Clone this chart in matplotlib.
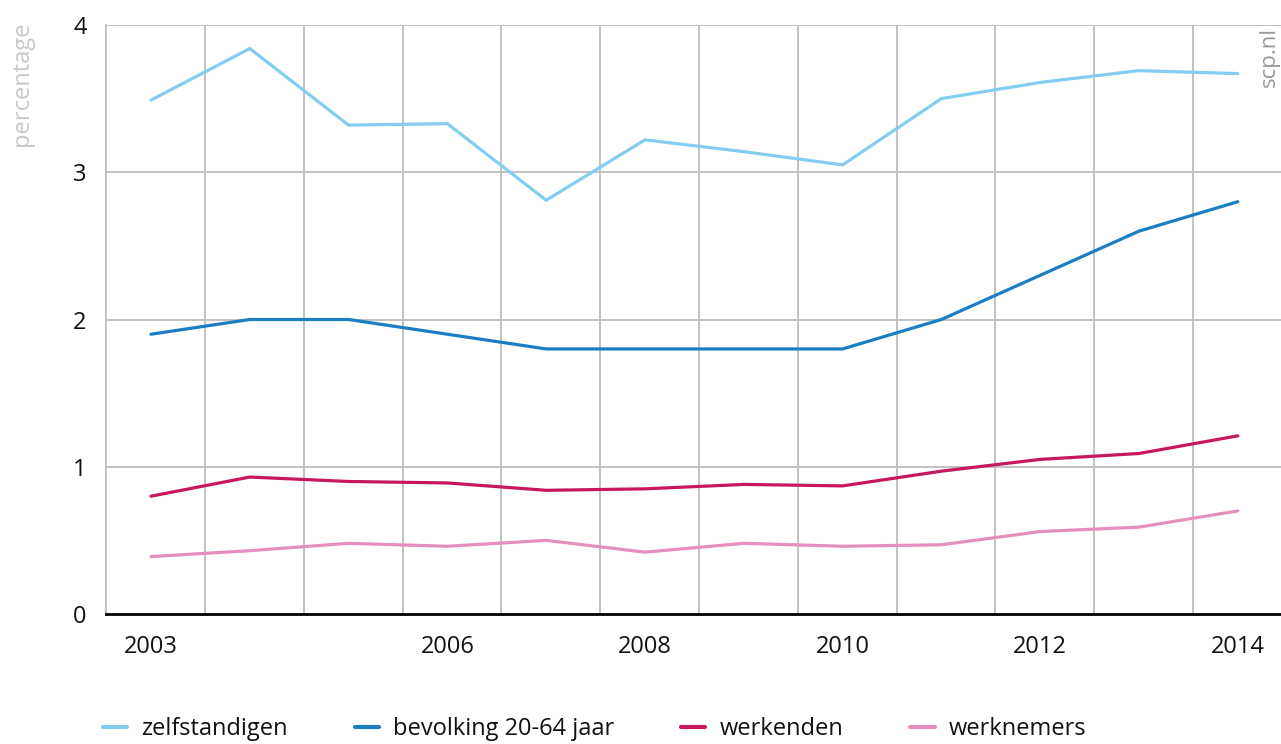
import numpy as np
import matplotlib
matplotlib.use('Agg')
import matplotlib.pyplot as plt

plt.rcParams['font.family'] = ['Open Sans', 'DejaVu Sans']

# data
jaren = [2003, 2004, 2005, 2006, 2007, 2008, 2009, 2010, 2011, 2012, 2013, 2014]
zelfstandigen = [3.49, 3.84, 3.32, 3.33, 2.81, 3.22, 3.14, 3.05, 3.50, 3.61, 3.69, 3.67]
bevolking = [1.9, 2.0, 2.0, 1.9, 1.8, 1.8, 1.8, 1.8, 2.0, 2.3, 2.6, 2.8]
werkenden = [0.80, 0.93, 0.90, 0.89, 0.84, 0.85, 0.88, 0.87, 0.97, 1.05, 1.09, 1.21]
werknemers = [0.39, 0.43, 0.48, 0.46, 0.50, 0.42, 0.48, 0.46, 0.47, 0.56, 0.59, 0.70]
getoonde_jaren = [2003, 2006, 2008, 2010, 2012, 2014]

series = [
    ('zelfstandigen', zelfstandigen, '#85CDF0'),
    ('bevolking 20-64 jaar', bevolking, '#1B7EC2'),
    ('werkenden', werkenden, '#C7175F'),
    ('werknemers', werknemers, '#E48FBE'),
]

W, H = 1281, 744
fig = plt.figure(figsize=(W / 100, H / 100), dpi=100)
ax = fig.add_axes([106 / W, (H - 614) / H, 1 - 106 / W, (614 - 25) / H])

x = np.arange(len(jaren))
for naam, waarden, kleur in series:
    ax.plot(x, waarden, color=kleur, lw=2.3, label=naam, zorder=3,
            solid_capstyle='round', solid_joinstyle='miter')

# grid
grijs = '#C2C2C2'
for xv in x[:-1] + 0.547:
    ax.axvline(xv, color=grijs, lw=1.4, zorder=1)
for yv in [1, 2, 3, 4]:
    ax.axhline(yv, color=grijs, lw=1.4, zorder=1)

ax.set_xlim(-0.455, (W - 151) / 98.8)
ax.set_ylim(0, 4)
ax.set_yticks([0, 1, 2, 3, 4])
ax.set_xticks([jaren.index(j) for j in getoonde_jaren])
ax.set_xticklabels([str(j) for j in getoonde_jaren])
ax.tick_params(axis='both', length=0, labelsize=17, colors='#111111')
ax.tick_params(axis='y', pad=14)
ax.tick_params(axis='x', pad=15)

for s in ['top', 'right']:
    ax.spines[s].set_visible(False)
ax.spines['left'].set_color(grijs)
ax.spines['left'].set_linewidth(1.4)
ax.spines['bottom'].set_color('#000000')
ax.spines['bottom'].set_linewidth(2)
ax.spines['bottom'].set_zorder(4)

fig.text(10 / W, (H - 22) / H, 'percentage', rotation=90, ha='left', va='top',
         fontsize=17, color='#C8C8C8')
fig.text(1280 / W, (H - 27) / H, 'scp.nl', rotation=90, ha='right', va='top',
         fontsize=16, color='#999999')

handles, labels = ax.get_legend_handles_labels()
leg = fig.legend(handles, labels, loc='center left', ncol=4, frameon=False,
                 bbox_to_anchor=(103 / W, 1 - 729 / H), borderaxespad=0, borderpad=0,
                 fontsize=17, handlelength=1.02, handletextpad=0.6, columnspacing=2.84)
for line in leg.get_lines():
    line.set_linewidth(3)
for t in leg.get_texts():
    t.set_color('#111111')

fig.savefig('out.png', dpi=100)
